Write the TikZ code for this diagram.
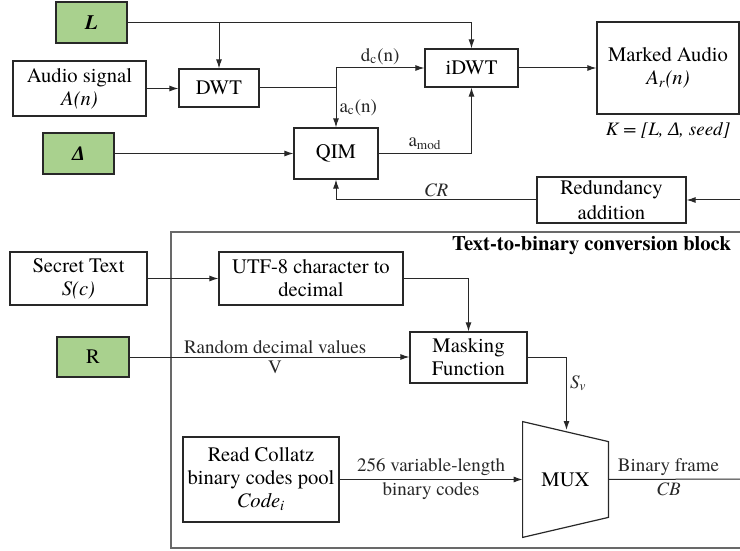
\documentclass[tikz,border=0pt]{standalone}
\usepackage{fontspec}
\setmainfont{TeX Gyre Termes}
\newfontfamily\greekfont{Liberation Serif}
\usetikzlibrary{arrows.meta, positioning, calc}
\definecolor{KeyColor}{RGB}{169,209,142}
\definecolor{LineColor}{RGB}{40,40,40}
\definecolor{BlockColor}{RGB}{105,105,105}
\tikzstyle{block} = [draw=LineColor, line width=0.6pt, rectangle, align=center, inner sep=0pt, font=\fontsize{10.3}{11.5}\selectfont]
\tikzstyle{keybox} = [block, fill=KeyColor]
\tikzstyle{arrow} = [line width=0.5pt, LineColor, -{Latex[length=4.5pt, width=3pt]}]
\tikzstyle{wire} = [line width=0.5pt, LineColor]
\tikzstyle{lbl} = [font=\fontsize{9.5}{10.5}\selectfont, inner sep=1.5pt, align=center]

\begin{document}
\begin{tikzpicture}[x=0.5pt, y=-0.5pt]
            \useasboundingbox (0,0) rectangle (740,551);
            % Text-to-binary conversion block (drawn first, behind)
            \node[draw=BlockColor, line width=1pt, minimum width=285.5pt, minimum height=158pt] (ttb) at (456.5,390) {};
            \node[anchor=east, font=\fontsize{10.3}{11.5}\selectfont\bfseries] (ttbtitle) at (738,246) {Text-to-binary conversion block};
            % embedding part
            \node[keybox, minimum width=35.5pt, minimum height=20.5pt] (L) at (91.5,22.5) {\textbf{\textit{L}}};
            \node[block, minimum width=66.5pt, minimum height=27.5pt] (audio) at (79.5,88.5) {Audio signal\\\textit{A(n)}};
            \node[block, minimum width=40pt, minimum height=19pt] (dwt) at (219,88) {DWT};
            \node[keybox, minimum width=35.5pt, minimum height=20.5pt] (delta) at (78.5,153.5) {\greekfont\textbf{\textit{Δ}}};
            \node[block, minimum width=42pt, minimum height=25.5pt] (qim) at (336,153.5) {QIM};
            \node[block, minimum width=46.5pt, minimum height=19pt] (idwt) at (471.5,68) {iDWT};
            \node[block, minimum width=71pt, minimum height=46pt] (marked) at (668,68) {Marked Audio\\\textit{A\textsubscript{r}(n)}};
            \node[lbl, below=2.5pt of marked] (key) {\textit{K = [L, {\greekfont Δ}, seed]}};
            \node[block, minimum width=74.5pt, minimum height=23pt, font=\fontsize{10.3}{12.5}\selectfont] (redund) at (611.5,200) {Redundancy\\addition};
            % text-to-binary part
            \node[block, minimum width=68.5pt, minimum height=26.5pt] (secret) at (78.5,278.5) {Secret Text\\\textit{S(c)}};
            \node[block, minimum width=92pt, minimum height=26.5pt] (utf) at (311,278.5) {UTF-8 character to\\decimal};
            \node[keybox, minimum width=36pt, minimum height=20pt] (R) at (93,357) {R};
            \node[block, minimum width=58.5pt, minimum height=25.5pt] (mask) at (468.5,357.5) {Masking\\Function};
            \node[block, minimum width=78pt, minimum height=42.5pt] (collatz) at (261,479.5) {Read Collatz\\binary codes pool\\\textit{Code\textsubscript{i}}};
            \node[minimum width=42.5pt, minimum height=57.5pt, inner sep=0pt, font=\fontsize{10.3}{11.5}\selectfont] (mux) at (565.5,479.5) {MUX};
            \draw[LineColor, line width=0.6pt] (mux.north west) -- ([yshift=-10pt]mux.north east) -- ([yshift=10pt]mux.south east) -- (mux.south west) -- cycle;
            % connectors, top
            \coordinate (split) at (dwt.east -| qim.north);
            \coordinate (fbin) at (742,200);
            \draw[arrow] (L.east) -| (idwt.north);
            \draw[arrow] (L.east -| dwt.north) -- (dwt.north);
            \draw[arrow] (audio.east) -- (audio.east -| dwt.west);
            \draw[wire] (dwt.east) -- (split);
            \draw[arrow] (split) |- node[lbl, above, pos=0.75] {d\textsubscript{c}(n)} (idwt.west);
            \draw[arrow] (split) -- node[lbl, right] {a\textsubscript{c}(n)} (qim.north);
            \draw[arrow] (delta.east) -- (qim.west);
            \draw[arrow] (qim.east) -| node[lbl, above, pos=0.25] {a\textsubscript{mod}} (idwt.south);
            \draw[arrow] (idwt.east) -- (marked.west);
            \draw[arrow] (fbin) -- (redund.east);
            \draw[arrow] (redund.west) -| node[lbl, above, pos=0.25] {\textit{CR}} (qim.south);
            % connectors, bottom
            \coordinate (muxin) at (566.5,430);
            \coordinate (frameout) at (742,479);
            \draw[arrow] (secret.east) -- (utf.west);
            \draw[arrow] (utf.east) -| (mask.north);
            \draw[arrow] (R.east) -- node[lbl, above, pos=0.52] {Random decimal values} node[lbl, below, pos=0.52] {V} (R.east -| mask.west);
            \draw[arrow] (mask.east) -| node[lbl, right, pos=0.68] {\textit{S\textsubscript{v}}} (muxin);
            \draw[arrow] (collatz.east) -- node[lbl, above] {256 variable-length} node[lbl, below] {binary codes} (collatz.east -| mux.west);
            \draw[wire] (mux.east) -- node[lbl, above, pos=0.45] {Binary frame} node[lbl, below, pos=0.45] {\textit{CB}} (frameout);
        \end{tikzpicture}
\end{document}
